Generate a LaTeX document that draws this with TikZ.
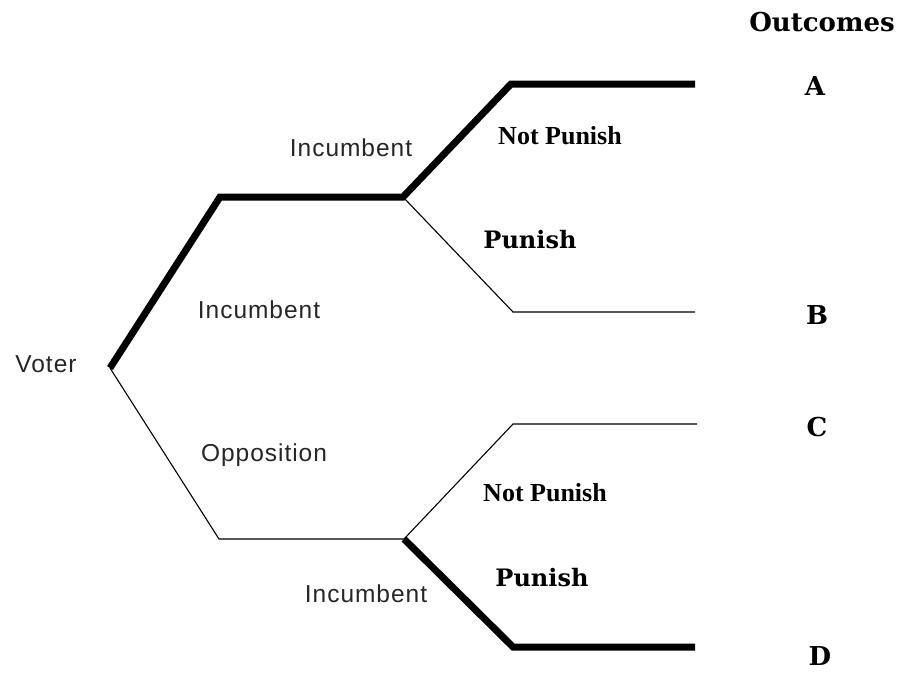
\documentclass[tikz,border=0pt]{standalone}
\usepackage{fontspec}
\newfontfamily\lblsans[LetterSpace=4]{Liberation Sans}
\newfontfamily\lblwide{DejaVu Serif}
\newfontfamily\lblser{Liberation Serif}
\begin{document}
\begin{tikzpicture}[x=1pt,y=-1pt,
  thickbr/.style={line width=7pt,line join=miter},
  thinbr/.style={line width=1.1pt},
  player/.style={font=\lblsans\fontsize{24.5}{28}\selectfont,inner sep=0pt,text=black!85},
  actwide/.style={font=\lblwide\bfseries\fontsize{24}{28}\selectfont,inner sep=0pt},
  actnarrow/.style={font=\lblser\bfseries\fontsize{26}{30}\selectfont,inner sep=0pt},
  outc/.style={font=\lblwide\bfseries\fontsize{26}{30}\selectfont,inner sep=0pt}]
\useasboundingbox (0,0) rectangle (904,673);
% tree points
\coordinate (V) at (110,368);
\coordinate (U1) at (220,197);
\coordinate (U2) at (403,197);
\coordinate (UA1) at (511,84);
\coordinate (UA2) at (695,84);
\coordinate (UB1) at (513,312);
\coordinate (UB2) at (695,312);
\coordinate (L1) at (219,539);
\coordinate (L2) at (404,539);
\coordinate (LC1) at (513,424);
\coordinate (LC2) at (697,424);
\coordinate (LD1) at (513,647);
\coordinate (LD2) at (695,647);
% branches
\draw[thinbr] (V) -- (L1) -- (L2) -- (LC1) -- (LC2);
\draw[thinbr] (U2) -- (UB1) -- (UB2);
\draw[thickbr] (V) -- (U1) -- (U2) -- (UA1) -- (UA2);
\draw[thickbr] (L2) -- (LD1) -- (LD2);
% labels
\node[player] (voter) at (46,364) {Voter};
\node[player] (inc1) at (351,148) {Incumbent};
\node[player] (inc2) at (259,310) {Incumbent};
\node[player] (opp) at (264,455) {Opposition};
\node[player] (inc3) at (366,594) {Incumbent};
\node[actnarrow] (np1) at (560,136) {Not Punish};
\node[actwide] (p1) at (530,240) {Punish};
\node[actnarrow] (np2) at (545,493) {Not Punish};
\node[actwide] (p2) at (542,578) {Punish};
\node[outc] (outcomes) at (822,22) {Outcomes};
\node[outc] (A) at (815,86) {A};
\node[outc] (B) at (817,315) {B};
\node[outc] (C) at (817,427) {C};
\node[outc] (D) at (820,656) {D};
\end{tikzpicture}
\end{document}
